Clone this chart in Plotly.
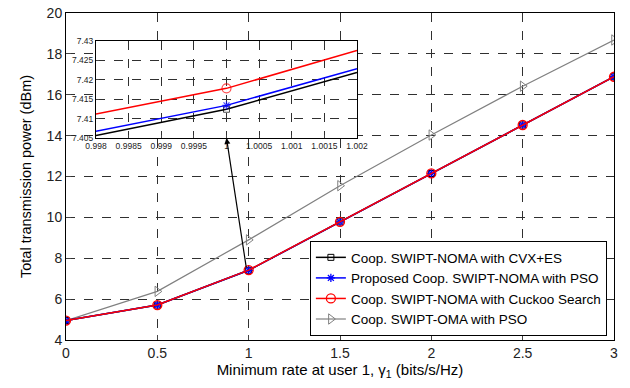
import plotly.graph_objects as go

# ---- main data ----
rate = [0, 0.5, 1, 1.5, 2, 2.5, 3]
cvx_es = [4.95, 5.71, 7.41, 9.78, 12.15, 14.52, 16.88]
pso_noma = [4.95, 5.71, 7.41, 9.78, 12.15, 14.52, 16.88]
cuckoo = [4.95, 5.71, 7.42, 9.78, 12.15, 14.52, 16.88]
pso_oma = [4.95, 6.38, 8.9, 11.55, 14.03, 16.42, 18.68]

# ---- inset (zoom around rate = 1) ----
inset_x = [0.998, 1.0, 1.002]
inset_cvx = [7.4056, 7.4124, 7.4219]
inset_pso = [7.4067, 7.4134, 7.4229]
inset_cuckoo = [7.4112, 7.4178, 7.4276]

names = ["Coop. SWIPT-NOMA with CVX+ES",
         "Proposed Coop. SWIPT-NOMA with PSO",
         "Coop. SWIPT-NOMA with Cuckoo Search",
         "Coop. SWIPT-OMA with PSO"]

x_ticks = [0, 0.5, 1, 1.5, 2, 2.5, 3]
x_ticklabels = ["0", "0.5", "1", "1.5", "2", "2.5", "3"]
y_ticks = [4, 6, 8, 10, 12, 14, 16, 18, 20]
inset_xticks = [0.998, 0.9985, 0.999, 0.9995, 1.0, 1.0005, 1.001, 1.0015, 1.002]
inset_xlabels = ["0.998", "0.9985", "0.999", "0.9995", "1", "1.0005", "1.001", "1.0015", "1.002"]
inset_yticks = [7.405, 7.41, 7.415, 7.42, 7.425, 7.43]
inset_ylabels = ["7.405", "7.41", "7.415", "7.42", "7.425", "7.43"]

GRAY = "#808080"
fig = go.Figure()

fig.add_trace(go.Scatter(x=rate, y=pso_oma, name=names[3], mode="lines+markers",
                         line=dict(color=GRAY, width=1.2),
                         marker=dict(symbol="triangle-right-open", size=9, color=GRAY, line=dict(width=1)),
                         legendrank=4))
fig.add_trace(go.Scatter(x=rate, y=cvx_es, name=names[0], mode="lines+markers",
                         line=dict(color="black", width=1.5),
                         marker=dict(symbol="square-open", size=6, color="black", line=dict(width=1)),
                         legendrank=1))
fig.add_trace(go.Scatter(x=rate, y=pso_noma, name=names[1], mode="lines+markers",
                         line=dict(color="blue", width=1.5),
                         marker=dict(symbol="asterisk-open", size=7, color="blue", line=dict(width=1.3, color="blue")),
                         legendrank=2))
fig.add_trace(go.Scatter(x=rate, y=cuckoo, name=names[2], mode="lines+markers",
                         line=dict(color="red", width=1.5),
                         marker=dict(symbol="circle-open", size=9, color="red", line=dict(width=1.3)),
                         legendrank=3))

# inset traces
fig.add_trace(go.Scatter(x=inset_x, y=inset_cvx, xaxis="x2", yaxis="y2", mode="lines+markers",
                         line=dict(color="black", width=1.5), showlegend=False,
                         marker=dict(symbol="square-open", size=[0, 6, 0], color="black", line=dict(width=1))))
fig.add_trace(go.Scatter(x=inset_x, y=inset_pso, xaxis="x2", yaxis="y2", mode="lines+markers",
                         line=dict(color="blue", width=1.5), showlegend=False,
                         marker=dict(symbol="asterisk-open", size=[0, 7, 0], color="blue", line=dict(width=1.3, color="blue"))))
fig.add_trace(go.Scatter(x=inset_x, y=inset_cuckoo, xaxis="x2", yaxis="y2", mode="lines+markers",
                         line=dict(color="red", width=1.5), showlegend=False,
                         marker=dict(symbol="circle-open", size=[0, 9, 0], color="red", line=dict(width=1.2))))

grid = dict(showgrid=True, gridcolor="#303030", griddash="dash", gridwidth=1)
FONT = "Liberation Sans, Arial, sans-serif"

fig.update_layout(
    width=630, height=388,
    margin=dict(l=66, r=16, t=13, b=48),
    paper_bgcolor="white", plot_bgcolor="white",
    font=dict(family=FONT, color="black", size=14),
    xaxis=dict(range=[0, 3], tickvals=x_ticks, ticktext=x_ticklabels, ticks="inside", ticklen=5,
               showline=True, linecolor="black", mirror=True, linewidth=1, zeroline=False,
               tickfont=dict(size=14, color="#222"), automargin=False,
               title=dict(text="Minimum rate at user 1, γ<sub>1</sub> (bits/s/Hz)", font=dict(size=15), standoff=4),
               **grid),
    yaxis=dict(range=[4, 20], tickvals=y_ticks, ticks="inside", ticklen=5,
               showline=True, linecolor="black", mirror=True, linewidth=1, zeroline=False,
               tickfont=dict(size=14, color="#222"), automargin=False,
               title=dict(text="Total transmission power (dBm)", font=dict(size=14.5), standoff=11),
               **grid),
    xaxis2=dict(domain=[0.0547, 0.531], anchor="y2", range=[0.998, 1.002],
                tickvals=inset_xticks, ticktext=inset_xlabels, ticks="inside", ticklen=3,
                showline=True, linecolor="black", mirror=True, linewidth=1, zeroline=False,
                tickfont=dict(size=8.5, color="#222"), automargin=False, **grid),
    yaxis2=dict(domain=[0.618, 0.914], anchor="x2", range=[7.405, 7.43],
                tickvals=inset_yticks, ticktext=inset_ylabels, ticks="inside", ticklen=3,
                showline=True, linecolor="black", mirror=True, linewidth=1, zeroline=False,
                tickfont=dict(size=8.5, color="#222"), automargin=False, **grid),
    legend=dict(x=0.987, xanchor="right", y=0.012, yanchor="bottom",
                bgcolor="white", bordercolor="black", borderwidth=1,
                font=dict(size=13.5), tracegroupgap=0, itemwidth=30),
    showlegend=True,
)

fig.add_annotation(x=1.0, y=7.405, xref="x2", yref="y2", ax=20, ay=131,
                   showarrow=True, arrowhead=2, arrowsize=1, arrowwidth=1.2, arrowcolor="black", text="")

# remove the default 8px page margin so the figure fills the window exactly
fig.write_html("out.html", config={"displayModeBar": False},
               post_script="document.body.style.margin='0px';")
